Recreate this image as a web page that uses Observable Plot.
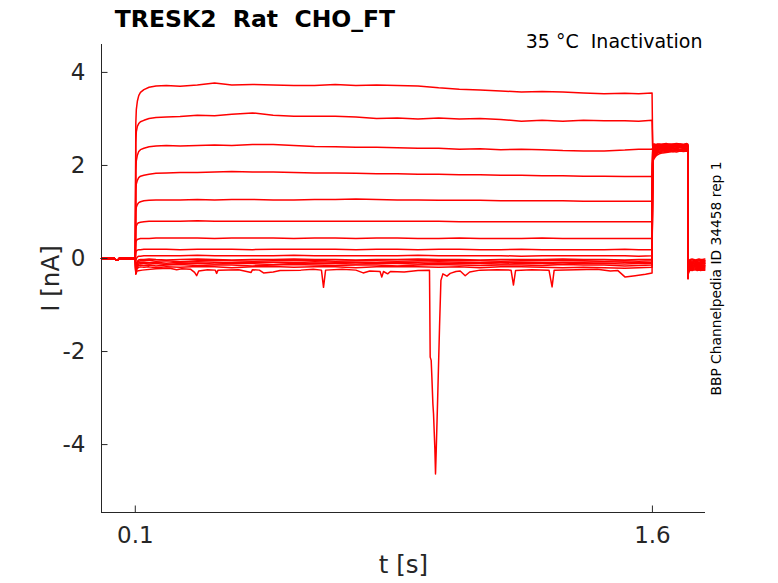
<!DOCTYPE html>
<html><head><meta charset="utf-8">
<script src="https://cdn.jsdelivr.net/npm/d3@7"></script>
<script src="https://cdn.jsdelivr.net/npm/@observablehq/plot@0.6"></script>
<style>body{margin:0;background:#fff} svg text{white-space:pre}</style>
</head><body><div id="chart"></div>
<script>
// ---- data ----
const title = "TRESK2  Rat  CHO_FT";
const condition = "35 °C  Inactivation";
const sideNote = "BBP Channelpedia ID 34458 rep 1";
const xLabel = "t [s]";
const yLabel = "I [nA]";
const xDomain = [0.002, 1.754];
const yDomain = [-5.46, 4.6];
const xTicks = [0.1, 1.6];
const xTickLabels = ["0.1", "1.6"];
const yTicks = [-4, -2, 0, 2, 4];
const yTickLabels = ["-4", "-2", "0", "2", "4"];

// holding baseline before the step (shared by all sweeps)
const preT = [0.002, 0.04, 0.043, 0.047, 0.05, 0.053, 0.0999];
const preI = [0, 0, -0.03, -0.04, -0.03, 0, 0];

// conditioning step 0.1 - 1.6 s
const stepT = [0.1, 0.1015, 0.103, 0.106, 0.11, 0.115, 0.125, 0.14, 0.16, 0.19, 0.23, 0.28, 0.33, 0.38, 0.44, 0.5, 0.56, 0.62, 0.68, 0.74, 0.8, 0.86, 0.92, 0.98, 1.04, 1.1, 1.16, 1.22, 1.28, 1.34, 1.4, 1.46, 1.52, 1.56, 1.599];
const stepI = [
  [0, 2.9, 3.2, 3.38, 3.5, 3.57, 3.63, 3.68, 3.71, 3.72, 3.70, 3.73, 3.77, 3.73, 3.74, 3.73, 3.72, 3.72, 3.74, 3.72, 3.73, 3.72, 3.71, 3.67, 3.64, 3.62, 3.60, 3.58, 3.59, 3.58, 3.56, 3.54, 3.55, 3.54, 3.56],
  [0, 2.5, 2.72, 2.84, 2.9, 2.94, 2.97, 3.01, 3.03, 3.04, 3.05, 3.08, 3.07, 3.1, 3.13, 3.08, 3.06, 3.06, 3.06, 3.04, 3.01, 3.02, 3.0, 3.02, 3.0, 3.01, 2.99, 2.95, 2.97, 2.95, 2.97, 2.96, 2.96, 2.95, 2.97],
  [0, 1.9, 2.1, 2.22, 2.3, 2.34, 2.37, 2.4, 2.42, 2.43, 2.42, 2.43, 2.44, 2.43, 2.45, 2.45, 2.43, 2.41, 2.4, 2.39, 2.39, 2.38, 2.37, 2.37, 2.35, 2.36, 2.34, 2.35, 2.34, 2.32, 2.31, 2.31, 2.33, 2.35, 2.35],
  [0, 1.45, 1.6, 1.68, 1.74, 1.77, 1.79, 1.81, 1.83, 1.84, 1.85, 1.85, 1.86, 1.87, 1.86, 1.86, 1.85, 1.84, 1.84, 1.83, 1.82, 1.82, 1.81, 1.81, 1.8, 1.8, 1.79, 1.79, 1.78, 1.78, 1.77, 1.77, 1.76, 1.76, 1.76],
  [0, 1.0, 1.1, 1.16, 1.2, 1.22, 1.24, 1.25, 1.26, 1.26, 1.26, 1.27, 1.26, 1.27, 1.27, 1.26, 1.26, 1.27, 1.27, 1.28, 1.27, 1.26, 1.26, 1.25, 1.25, 1.25, 1.24, 1.24, 1.24, 1.24, 1.23, 1.23, 1.23, 1.23, 1.23],
  [0, 0.62, 0.7, 0.75, 0.77, 0.78, 0.79, 0.8, 0.8, 0.8, 0.8, 0.81, 0.8, 0.8, 0.8, 0.8, 0.8, 0.8, 0.8, 0.8, 0.8, 0.8, 0.8, 0.8, 0.79, 0.79, 0.79, 0.79, 0.79, 0.79, 0.79, 0.79, 0.79, 0.79, 0.79],
  [0, 0.34, 0.38, 0.41, 0.42, 0.43, 0.43, 0.43, 0.44, 0.44, 0.44, 0.44, 0.43, 0.44, 0.44, 0.44, 0.43, 0.44, 0.44, 0.43, 0.44, 0.44, 0.43, 0.43, 0.44, 0.43, 0.43, 0.43, 0.44, 0.43, 0.43, 0.43, 0.43, 0.43, 0.43],
  [0, 0.12, 0.16, 0.18, 0.19, 0.19, 0.2, 0.2, 0.2, 0.2, 0.19, 0.2, 0.2, 0.2, 0.19, 0.2, 0.2, 0.2, 0.2, 0.19, 0.2, 0.2, 0.19, 0.2, 0.2, 0.19, 0.19, 0.2, 0.19, 0.19, 0.19, 0.19, 0.2, 0.19, 0.19],
  [0, -0.05, 0.0, 0.03, 0.05, 0.05, 0.06, 0.06, 0.06, 0.06, 0.06, 0.07, 0.06, 0.06, 0.06, 0.06, 0.07, 0.06, 0.06, 0.06, 0.06, 0.06, 0.07, 0.06, 0.06, 0.06, 0.06, 0.05, 0.06, 0.06, 0.06, 0.06, 0.06, 0.05, 0.06],
  [0, -0.28, -0.15, -0.06, -0.03, -0.02, -0.02, -0.01, -0.02, -0.03, -0.02, -0.01, -0.02, -0.03, -0.02, -0.02, -0.01, -0.02, -0.02, -0.03, -0.02, -0.02, -0.01, -0.02, -0.02, -0.03, -0.02, -0.02, -0.02, -0.01, -0.02, -0.02, -0.03, -0.02, -0.02],
  [0, -0.3, -0.18, -0.09, -0.06, -0.05, -0.05, -0.04, -0.06, -0.05, -0.07, -0.05, -0.04, -0.05, -0.06, -0.05, -0.05, -0.04, -0.06, -0.05, -0.05, -0.06, -0.05, -0.04, -0.05, -0.05, -0.06, -0.05, -0.05, -0.04, -0.05, -0.06, -0.05, -0.06, -0.05],
  [0, -0.3, -0.2, -0.12, -0.09, -0.08, -0.08, -0.09, -0.08, -0.1, -0.08, -0.07, -0.08, -0.09, -0.08, -0.08, -0.09, -0.07, -0.08, -0.08, -0.09, -0.08, -0.08, -0.07, -0.08, -0.09, -0.08, -0.08, -0.09, -0.08, -0.08, -0.07, -0.08, -0.09, -0.08],
  [0, -0.32, -0.22, -0.15, -0.12, -0.11, -0.11, -0.12, -0.11, -0.13, -0.11, -0.1, -0.12, -0.11, -0.11, -0.13, -0.11, -0.1, -0.11, -0.12, -0.11, -0.11, -0.12, -0.1, -0.11, -0.11, -0.12, -0.11, -0.11, -0.12, -0.1, -0.11, -0.12, -0.11, -0.11],
  [0, -0.32, -0.24, -0.18, -0.15, -0.14, -0.15, -0.14, -0.16, -0.14, -0.13, -0.15, -0.14, -0.14, -0.16, -0.14, -0.13, -0.14, -0.15, -0.14, -0.14, -0.16, -0.14, -0.13, -0.14, -0.15, -0.14, -0.14, -0.15, -0.13, -0.14, -0.14, -0.16, -0.15, -0.14],
  [0, -0.33, -0.26, -0.21, -0.19, -0.18, -0.19, -0.18, -0.2, -0.18, -0.19, -0.17, -0.18, -0.2, -0.18, -0.17, -0.19, -0.18, -0.18, -0.2, -0.18, -0.17, -0.18, -0.19, -0.18, -0.2, -0.18, -0.18, -0.19, -0.2, -0.19, -0.2, -0.21, -0.2, -0.19]
];

// lowest sweep during the step, with its spikes [t, I]
const lowTrace = [
  [0.1, 0], [0.1015, -0.34], [0.105, -0.27], [0.12, -0.25], [0.16, -0.22], [0.2, -0.21], [0.22, -0.24], [0.235, -0.22],
  [0.26, -0.23], [0.272, -0.3], [0.278, -0.37], [0.284, -0.27], [0.31, -0.24], [0.332, -0.25], [0.336, -0.32], [0.34, -0.25],
  [0.4, -0.24], [0.436, -0.3], [0.44, -0.24], [0.46, -0.25], [0.472, -0.31], [0.5, -0.29], [0.52, -0.26], [0.58, -0.25],
  [0.616, -0.23], [0.64, -0.25], [0.646, -0.62], [0.652, -0.25], [0.7, -0.23], [0.74, -0.25], [0.761, -0.31], [0.78, -0.27],
  [0.81, -0.28], [0.815, -0.4], [0.82, -0.28], [0.832, -0.33], [0.84, -0.28], [0.88, -0.29], [0.92, -0.26], [0.9534, -0.25],
  [0.9554, -2.12], [0.9583, -2.19], [0.9603, -2.55], [0.9632, -3.12], [0.9651, -3.34], [0.969, -4.1], [0.9709, -4.63],
  [0.9729, -4.13], [0.9767, -3.12], [0.9825, -1.48], [0.9865, -0.47], [0.9923, -0.33], [1.004, -0.38], [1.0135, -0.32],
  [1.03, -0.28], [1.0425, -0.27], [1.057, -0.37], [1.07, -0.29], [1.1, -0.25], [1.15, -0.24], [1.19, -0.25], [1.197, -0.57],
  [1.203, -0.26], [1.25, -0.24], [1.3, -0.25], [1.309, -0.61], [1.315, -0.25], [1.38, -0.24], [1.44, -0.23], [1.478, -0.27],
  [1.5, -0.26], [1.521, -0.4], [1.55, -0.37], [1.58, -0.34], [1.599, -0.31]
];

// test pulse 1.6 - 1.7 s
const tailT = [1.6008, 1.602, 1.605, 1.61, 1.615, 1.62, 1.63, 1.64, 1.65, 1.66, 1.67, 1.68, 1.69, 1.7, 1.7025];
const tailI = [
  [2.42, 2.45, 2.46, 2.45, 2.46, 2.45, 2.46, 2.47, 2.45, 2.46, 2.47, 2.46, 2.45, 2.47, 2.46],
  [2.4, 2.44, 2.45, 2.44, 2.45, 2.46, 2.44, 2.45, 2.46, 2.45, 2.44, 2.46, 2.45, 2.46, 2.45],
  [2.38, 2.42, 2.44, 2.43, 2.44, 2.43, 2.45, 2.44, 2.43, 2.45, 2.44, 2.43, 2.44, 2.45, 2.44],
  [2.35, 2.4, 2.42, 2.43, 2.42, 2.44, 2.43, 2.42, 2.44, 2.43, 2.42, 2.44, 2.43, 2.44, 2.43],
  [2.32, 2.38, 2.41, 2.42, 2.41, 2.42, 2.43, 2.41, 2.42, 2.43, 2.41, 2.42, 2.43, 2.42, 2.43],
  [2.28, 2.35, 2.39, 2.4, 2.41, 2.4, 2.42, 2.41, 2.4, 2.42, 2.41, 2.42, 2.41, 2.42, 2.41],
  [2.24, 2.32, 2.37, 2.39, 2.4, 2.39, 2.41, 2.4, 2.41, 2.4, 2.42, 2.41, 2.4, 2.41, 2.42],
  [2.2, 2.28, 2.34, 2.37, 2.38, 2.39, 2.38, 2.4, 2.39, 2.4, 2.41, 2.39, 2.4, 2.41, 2.4],
  [2.16, 2.25, 2.31, 2.35, 2.37, 2.38, 2.37, 2.39, 2.38, 2.39, 2.4, 2.39, 2.38, 2.4, 2.39],
  [2.12, 2.22, 2.28, 2.33, 2.35, 2.36, 2.37, 2.36, 2.38, 2.37, 2.38, 2.39, 2.37, 2.38, 2.39],
  [2.1, 2.2, 2.26, 2.31, 2.33, 2.35, 2.36, 2.35, 2.36, 2.37, 2.36, 2.38, 2.37, 2.36, 2.38],
  [2.08, 2.18, 2.24, 2.29, 2.31, 2.33, 2.34, 2.35, 2.34, 2.36, 2.35, 2.34, 2.36, 2.35, 2.36],
  [2.06, 2.16, 2.22, 2.27, 2.3, 2.31, 2.32, 2.33, 2.34, 2.33, 2.35, 2.34, 2.33, 2.35, 2.34],
  [2.05, 2.14, 2.2, 2.25, 2.28, 2.29, 2.31, 2.32, 2.31, 2.33, 2.32, 2.34, 2.33, 2.32, 2.33],
  [2.04, 2.12, 2.18, 2.23, 2.26, 2.28, 2.29, 2.3, 2.31, 2.3, 2.32, 2.31, 2.32, 2.31, 2.32],
  [2.02, 2.1, 2.15, 2.2, 2.23, 2.25, 2.27, 2.28, 2.29, 2.3, 2.29, 2.31, 2.3, 2.31, 2.3]
];

// after the test pulse
const postT = [1.7033, 1.704, 1.706, 1.71, 1.715, 1.72, 1.725, 1.73, 1.735, 1.74, 1.745, 1.752];
const postI = [
  [-0.3, -0.12, -0.04, -0.02, -0.01, -0.02, -0.03, -0.02, -0.01, -0.02, -0.02, -0.01],
  [-0.32, -0.14, -0.06, -0.04, -0.03, -0.04, -0.05, -0.04, -0.03, -0.04, -0.05, -0.04],
  [-0.34, -0.16, -0.08, -0.05, -0.06, -0.05, -0.04, -0.06, -0.05, -0.05, -0.06, -0.05],
  [-0.36, -0.18, -0.1, -0.07, -0.08, -0.07, -0.06, -0.07, -0.08, -0.07, -0.06, -0.07],
  [-0.38, -0.2, -0.11, -0.08, -0.09, -0.08, -0.07, -0.09, -0.08, -0.08, -0.09, -0.08],
  [-0.4, -0.22, -0.13, -0.1, -0.11, -0.1, -0.09, -0.11, -0.1, -0.1, -0.11, -0.1],
  [-0.38, -0.22, -0.14, -0.11, -0.12, -0.11, -0.1, -0.12, -0.11, -0.12, -0.11, -0.11],
  [-0.4, -0.24, -0.15, -0.12, -0.13, -0.12, -0.11, -0.13, -0.12, -0.13, -0.12, -0.12],
  [-0.41, -0.25, -0.17, -0.14, -0.15, -0.14, -0.13, -0.15, -0.14, -0.15, -0.14, -0.14],
  [-0.42, -0.26, -0.18, -0.15, -0.16, -0.15, -0.14, -0.16, -0.15, -0.16, -0.15, -0.15],
  [-0.4, -0.27, -0.19, -0.16, -0.17, -0.16, -0.15, -0.17, -0.16, -0.17, -0.16, -0.16],
  [-0.42, -0.28, -0.21, -0.18, -0.19, -0.18, -0.17, -0.19, -0.18, -0.19, -0.18, -0.18],
  [-0.41, -0.29, -0.22, -0.19, -0.2, -0.19, -0.18, -0.2, -0.19, -0.2, -0.19, -0.19],
  [-0.42, -0.3, -0.24, -0.21, -0.22, -0.21, -0.2, -0.22, -0.21, -0.22, -0.21, -0.21],
  [-0.43, -0.32, -0.26, -0.23, -0.24, -0.23, -0.22, -0.24, -0.23, -0.24, -0.23, -0.23],
  [-0.44, -0.34, -0.28, -0.25, -0.26, -0.25, -0.24, -0.26, -0.25, -0.26, -0.25, -0.25]
];

// ---- assemble rows ----
const rows = [];
const nSweeps = stepI.length + 1;
for (let s = 0; s < nSweeps; s++) {
  preT.forEach((t, i) => rows.push({sweep: s, t, I: preI[i]}));
  if (s < stepI.length) stepT.forEach((t, i) => rows.push({sweep: s, t, I: stepI[s][i]}));
  else lowTrace.forEach(([t, I]) => rows.push({sweep: s, t, I}));
  tailT.forEach((t, i) => rows.push({sweep: s, t, I: tailI[s][i]}));
  postT.forEach((t, i) => rows.push({sweep: s, t, I: postI[s][i]}));
}

const ink = "#262626";
const W = 778, H = 583, mL = 101, mR = 73, mT = 44, mB = 71;
const fw = W - mL - mR, fh = H - mT - mB;

const chart = Plot.plot({
  width: W, height: H,
  marginLeft: mL, marginRight: mR, marginTop: mT, marginBottom: mB,
  x: {domain: xDomain},
  y: {domain: yDomain},
  style: {fontFamily: "DejaVu Sans", background: "#fff", color: ink},
  marks: [
    Plot.line(rows, {x: "t", y: "I", z: "sweep", stroke: "#ff0000", strokeWidth: 1.5}),
    Plot.ruleX([xDomain[0]], {stroke: ink, strokeWidth: 1}),
    Plot.ruleY([yDomain[0]], {stroke: ink, strokeWidth: 1}),
    Plot.tickY(yTicks, {y: d => d, stroke: ink, insetRight: fw - 6.5}),
    Plot.tickX(xTicks, {x: d => d, stroke: ink, insetTop: fh - 6.5}),
    Plot.axisY({ticks: yTicks, tickFormat: (d, i) => yTickLabels[yTicks.indexOf(d)], tickSize: 0, tickPadding: 16, fontSize: 23, label: null, color: ink}),
    Plot.axisX({ticks: xTicks, tickFormat: (d, i) => xTickLabels[xTicks.indexOf(d)], tickSize: 0, tickPadding: 14.5, fontSize: 23, label: null, color: ink}),
    Plot.text([yLabel], {text: d => d, frameAnchor: "left", dx: -43, rotate: -90, lineAnchor: "bottom", textAnchor: "middle", fontSize: 24.5, fill: ink}),
    Plot.text([xLabel], {text: d => d, frameAnchor: "bottom", dy: 60, lineAnchor: "bottom", textAnchor: "middle", fontSize: 24.5, fill: ink}),
    Plot.text([title], {text: d => d, frameAnchor: "top-left", dx: 153.5, dy: -17.3, lineAnchor: "bottom", textAnchor: "middle", fontSize: 23.5, fontWeight: "bold", fill: "#000"}),
    Plot.text([condition], {text: d => d, frameAnchor: "top-right", dx: -3, dy: 3.3, lineAnchor: "bottom", textAnchor: "end", fontSize: 19, fill: "#000"}),
    Plot.text([sideNote], {text: d => d, frameAnchor: "right", dx: 15.5, rotate: -90, lineAnchor: "bottom", textAnchor: "middle", fontSize: 13.8, fill: "#000"})
  ]
});
document.getElementById("chart").appendChild(chart);
</script>
</body></html>
